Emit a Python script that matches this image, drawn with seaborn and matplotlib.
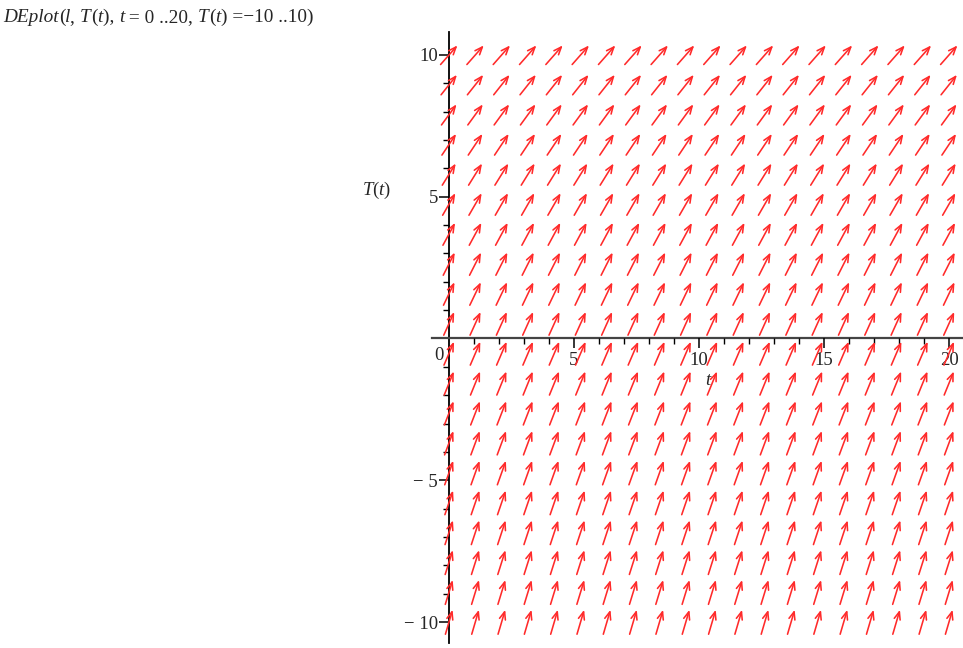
import numpy as np
import matplotlib
matplotlib.use("Agg")
import matplotlib.pyplot as plt
import seaborn as sns

# direction field grid (Maple default 20 x 20 arrows)
t_values = np.linspace(0, 20, 20)
T_values = np.linspace(-10, 10, 20)
row_slopes = [3.0, 2.89, 2.79, 2.68, 2.58, 2.47, 2.37, 2.26, 2.16, 2.05,
              1.95, 1.84, 1.74, 1.63, 1.53, 1.42, 1.32, 1.21, 1.11, 1.0]
x_major = [5, 10, 15, 20]
y_major = [-10, -5, 5, 10]
y_labels = ["\u2212 10", "\u2212 5", "5", "10"]
title_parts = [("DEplot", "italic"), ("(", "normal"), ("l", "italic"), (", ", "normal"),
               ("T", "italic"), ("(", "normal"), ("t", "italic"), ("), ", "normal"),
               ("t", "italic"), (" = 0 ..20, ", "normal"), ("T", "italic"), ("(", "normal"),
               ("t", "italic"), (") =\u221210 ..10)", "normal")]

sns.set_style("white")
plt.rcParams["font.family"] = ["Liberation Serif", "DejaVu Serif"]
plt.rcParams["mathtext.fontset"] = "custom"
plt.rcParams["mathtext.rm"] = "Liberation Serif"
plt.rcParams["mathtext.it"] = "Liberation Serif:italic"

W, H = 963, 648
fig = plt.figure(figsize=(W / 100, H / 100), dpi=100)
left_px, right_px, top_px, bot_px = 432, 962, 32, 643
ax = fig.add_axes([left_px / W, (H - bot_px) / H,
                   (right_px - left_px) / W, (bot_px - top_px) / H])
xlim = (-0.68, 20.52)
ylim = (-10.74, 10.81)
ax.set_xlim(*xlim)
ax.set_ylim(*ylim)

sx = (right_px - left_px) / (xlim[1] - xlim[0])  # px per unit
sy = (bot_px - top_px) / (ylim[1] - ylim[0])

# arrows keep the same on-screen length, centred on the grid points
arrow_len = 25.5
for T, slope in zip(T_values, row_slopes):
    ang = np.arctan2(slope * sy, sx)
    dx = arrow_len * np.cos(ang) / sx / 2
    dy = arrow_len * np.sin(ang) / sy / 2
    for t in t_values:
        ax.annotate("", xy=(t + dx, T + dy), xytext=(t - dx, T - dy),
                    arrowprops=dict(arrowstyle="->,head_length=0.55,head_width=0.22",
                                    color="#ff2a2a", lw=1.15,
                                    shrinkA=0, shrinkB=0),
                    annotation_clip=False)

for s in ["top", "right"]:
    ax.spines[s].set_visible(False)
ax.spines["left"].set_position(("data", 0))
ax.spines["bottom"].set_position(("data", 0))
ax.spines["left"].set_color("black")
ax.spines["bottom"].set_color("#444444")
ax.spines["left"].set_linewidth(1.3)
ax.spines["bottom"].set_linewidth(1.6)
ax.spines["left"].set_zorder(0)
ax.spines["bottom"].set_zorder(0)

ax.set_xticks(x_major)
ax.set_xticklabels([str(v) for v in x_major])
ax.set_xticks([v for v in range(1, 21) if v % 5], minor=True)
ax.set_yticks(y_major)
ax.set_yticklabels(y_labels)
ax.set_yticks([v for v in range(-10, 11) if v % 5], minor=True)
ax.tick_params(axis="both", which="major", direction="out", length=7, width=1.1,
               labelsize=13.5, pad=3, color="black", bottom=True, left=True)
ax.tick_params(axis="both", which="minor", direction="out", length=4, width=1.0,
               color="black", bottom=True, left=True)
ax.tick_params(axis="y", which="major", pad=1)

ax.text(-0.2, -0.3, "0", ha="right", va="top", fontsize=13.5)
ax.text((709 - 449) / sx, -(380 - 338) / sy, r"$\mathit{t}$",
        ha="center", va="center", fontsize=13.5)
ax.text(-(449 - 377) / sx, (338 - 190) / sy, r"$\mathit{T}(\mathit{t})$",
        ha="center", va="center", fontsize=13.5, clip_on=False)

# title line built from upright / italic pieces placed one after another
renderer = fig.canvas.get_renderer()
x_px = 3
for text, style in title_parts:
    piece = fig.text(x_px / W, 1 - 22 / H, text, style=style, ha="left",
                     va="baseline", fontsize=13.9)
    x_px += piece.get_window_extent(renderer).width

fig.savefig("out.png", dpi=100)
